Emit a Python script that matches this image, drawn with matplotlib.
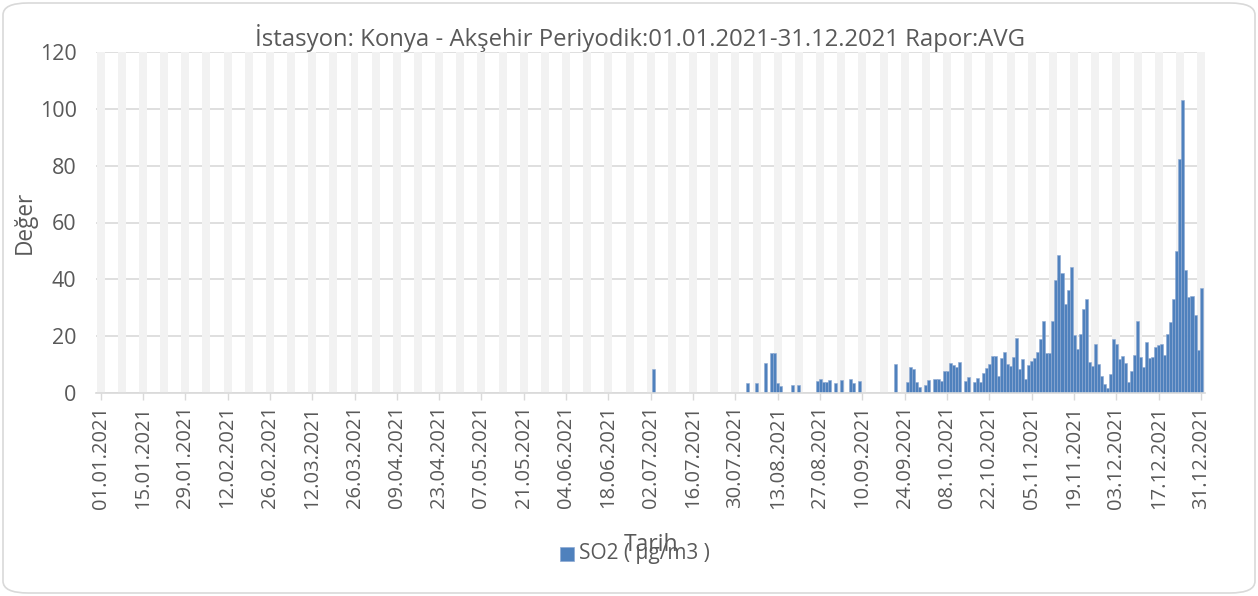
import numpy as np
import matplotlib
matplotlib.use("Agg")
import matplotlib.pyplot as plt
from matplotlib import patches
import datetime as dt

# sparse summer readings (date, value)
summer_dates = ["03.07", "03.08", "06.08", "09.08", "11.08", "12.08", "13.08", "14.08",
                "18.08", "20.08", "26.08", "27.08", "28.08", "29.08", "30.08", "01.09",
                "03.09", "06.09", "07.09", "09.09"]
summer_vals = [8.4, 3.6, 3.6, 10.5, 14.0, 14.0, 3.4, 2.5,
               2.9, 2.9, 4.3, 4.9, 3.9, 3.9, 4.4, 3.6,
               4.6, 4.8, 3.4, 4.3]

# daily readings from 21.09 to 31.12 (nan = no data)
nan = np.nan
autumn_start = "21.09"
autumn_vals = [10.1, nan, nan, nan, 3.9, 9.0, 8.4, 4.0, 2.1, nan,
               2.8, 4.6, nan, 4.8, 5.0, 4.3, 7.7, 7.8, 10.6, 10.0,
               9.3, 10.8, nan, 4.3, 5.7, nan, 3.9, 5.2, 3.9, 7.2,
               8.8, 10.1, 12.9, 12.9, 6.0, 12.4, 14.3, 10.2, 9.5, 12.5,
               19.4, 8.4, 12.1, 4.9, 9.9, 11.3, 12.2, 14.3, 18.9, 25.2,
               14.2, 14.0, 25.2, 39.8, 48.7, 42.3, 31.4, 36.1, 44.2, 20.4,
               15.5, 20.6, 29.4, 33.0, 11.0, 9.5, 17.1, 10.1, 6.0, 3.0,
               1.6, 6.6, 18.9, 17.1, 12.0, 13.1, 10.4, 3.9, 7.7, 13.2,
               25.5, 12.8, 9.3, 18.1, 12.2, 12.5, 16.3, 16.8, 17.4, 13.3,
               20.9, 25.1, 33.0, 50.0, 82.2, 103.0, 43.3, 33.7, 34.1, 27.4,
               15.1, 36.8]

title = "İstasyon: Konya - Akşehir Periyodik:01.01.2021-31.12.2021 Rapor:AVG"
series_name = "SO2 ( µg/m3 )"

start = dt.date(2021, 1, 1)


def day_index(s):
    d, m = s.split(".")
    return (dt.date(2021, int(m), int(d)) - start).days


values = np.full(365, np.nan)
for s, v in zip(summer_dates, summer_vals):
    values[day_index(s)] = v
a0 = day_index(autumn_start)
values[a0:a0 + len(autumn_vals)] = autumn_vals

days = np.arange(365)
tick_days = np.arange(0, 365, 14)
tick_labels = [(start + dt.timedelta(days=int(d))).strftime("%d.%m.%Y") for d in tick_days]

plt.rcParams['font.family'] = ['Open Sans', 'DejaVu Sans']
txt = '#595959'
W, H = 1258, 596
fig = plt.figure(figsize=(W / 100, H / 100), dpi=100)

# outer rounded frame
frame = patches.FancyBboxPatch((3 / W, 3 / H), 1 - 6 / W, 1 - 6 / H,
                               boxstyle="round,pad=0,rounding_size=0.02",
                               transform=fig.transFigure, facecolor='none',
                               edgecolor='#D9D9D9', linewidth=1.2)
fig.patches.append(frame)

ax = fig.add_axes([96 / W, 1 - 393 / H, (1205 - 96) / W, (393 - 52) / H])
ax.set_facecolor('none')

# weekly light bands
band_days = np.arange(0, 365, 7)
ax.bar(band_days, np.full(len(band_days), 120), width=2.64, color='#F2F2F2',
       linewidth=0, zorder=2)

ax.bar(days, np.nan_to_num(values), width=1.0, color='#4F81BD',
       edgecolor='#8FAAD3', linewidth=0.4, zorder=3)

ax.set_xlim(-1.5, 365.3)
ax.set_ylim(0, 120)
ax.set_yticks(np.arange(0, 121, 20))
ax.yaxis.grid(True, color='#D9D9D9', linewidth=1.2, zorder=1)
ax.set_axisbelow(True)
for sp in ['top', 'right', 'left']:
    ax.spines[sp].set_visible(False)
ax.spines['bottom'].set_color('#D9D9D9')
ax.spines['bottom'].set_linewidth(1.2)
ax.spines['bottom'].set_zorder(4)

ax.set_xticks(tick_days)
ax.set_xticklabels(tick_labels, rotation=90, fontsize=14.5, color=txt)
ax.tick_params(axis='x', length=5, width=1, color='#D9D9D9', pad=4)
ax.tick_params(axis='y', length=0, pad=14, labelsize=15.5, labelcolor=txt)

fig.text(640 / W, 1 - 38 / H, title, ha='center', va='center', fontsize=17.2, color=txt)
fig.text(25 / W, 1 - 222 / H, "Değer", rotation=90, ha='center', va='center',
         fontsize=16.3, color=txt)
fig.text(651 / W, 1 - 545 / H, "Tarih", ha='center', va='center', fontsize=16.5, color=txt)

# legend
fig.patches.append(patches.Rectangle((560 / W, 1 - 561 / H), 14 / W, 14 / H,
                                     transform=fig.transFigure, facecolor='#4F81BD',
                                     edgecolor='#8FAAD3', linewidth=0.5))
fig.text(579 / W, 1 - 554 / H, series_name, ha='left', va='center', fontsize=15, color=txt)

fig.savefig("out.png", dpi=100)
